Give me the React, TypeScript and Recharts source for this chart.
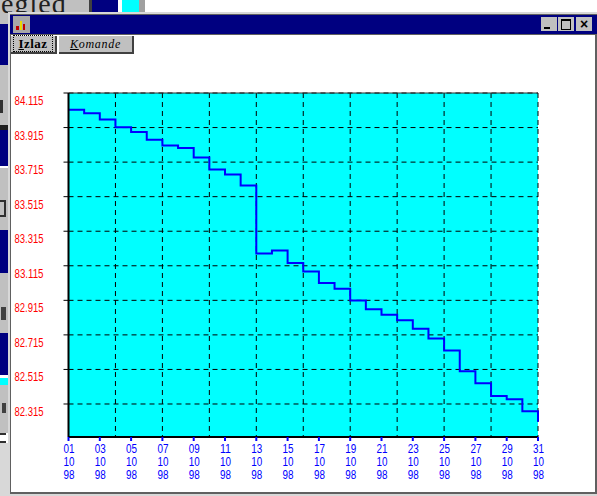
import { ComposedChart, Line, XAxis, YAxis, CartesianGrid } from 'recharts';

const days = [1, 2, 3, 4, 5, 6, 7, 8, 9, 10, 11, 12, 13, 14, 15, 16, 17, 18, 19, 20, 21, 22, 23, 24, 25, 26, 27, 28, 29, 30, 31];
const values = [
  84.018, 83.998, 83.961, 83.917, 83.89, 83.845, 83.811, 83.797, 83.741, 83.672, 83.643, 83.579,
  83.186, 83.204, 83.131, 83.082, 83.015, 82.982, 82.914, 82.864, 82.831, 82.8, 82.75, 82.694,
  82.624, 82.505, 82.435, 82.361, 82.342, 82.273, 82.212,
];
const yTicks = [84.115, 83.915, 83.715, 83.515, 83.315, 83.115, 82.915, 82.715, 82.515, 82.315];
const xTicks = [1, 3, 5, 7, 9, 11, 13, 15, 17, 19, 21, 23, 25, 27, 29, 31];
const gridDays = [4, 7, 10, 13, 16, 19, 22, 25, 28, 31];
const month = '10';
const year = '98';

const data = days.map((day, i) => ({ day, value: values[i] }));

const labelFont = '"Liberation Sans", sans-serif';

function YTick({ x, y, payload }: any) {
  return (
    <text x={x - 18} y={y + 12} textAnchor="end" fontFamily={labelFont} fontSize={13} fill="#ff0000" textLength={29} lengthAdjust="spacingAndGlyphs">
      {payload.value.toFixed(3)}
    </text>
  );
}

function XTick({ x, y, payload }: any) {
  const day = String(payload.value).padStart(2, '0');
  const lines = [day, month, year];
  return (
    <text textAnchor="middle" fontFamily={labelFont} fontSize={12} fill="#0000ff">
      {lines.map((line, i) => (
        <tspan key={i} x={x + 0.5} y={y + 10 + i * 13} textLength={11} lengthAdjust="spacingAndGlyphs">
          {line}
        </tspan>
      ))}
    </text>
  );
}

// window chrome around the chart
function Box({ l, t, w, h, c }: { l: number; t: number; w: number; h: number; c: string }) {
  return <div style={{ position: 'absolute', left: l, top: t, width: w, height: h, background: c }} />;
}

function Backdrop() {
  return (
    <>
      <Box l={0} t={0} w={597} h={496} c="#ffffff" />
      <Box l={0} t={0} w={89} h={24} c="#c0c0c0" />
      <Box l={89} t={0} w={3} h={13} c="#404040" />
      <Box l={92} t={0} w={26} h={13} c="#000080" />
      <Box l={122} t={0} w={17} h={13} c="#00ffff" />
      <Box l={139} t={0} w={6} h={13} c="#a0a0a0" />
      <div style={{ position: 'absolute', left: 1, top: -12, fontFamily: '"Liberation Serif", serif', fontSize: 28, color: '#202020', letterSpacing: 1 }}>
        egled
      </div>
      <Box l={0} t={24} w={10} h={41} c="#000080" />
      <Box l={0} t={65} w={10} h={60} c="#c0c0c0" />
      <Box l={0} t={100} w={3} h={13} c="#303030" />
      <Box l={0} t={125} w={10} h={5} c="#202020" />
      <Box l={0} t={130} w={10} h={36} c="#000080" />
      <Box l={0} t={168} w={10} h={62} c="#c0c0c0" />
      <Box l={0} t={200} w={6} h={2} c="#303030" />
      <Box l={4} t={202} w={2} h={13} c="#303030" />
      <Box l={0} t={215} w={6} h={2} c="#303030" />
      <Box l={0} t={230} w={10} h={43} c="#000080" />
      <Box l={0} t={273} w={10} h={60} c="#c0c0c0" />
      <Box l={1} t={307} w={5} h={13} c="#404040" />
      <Box l={0} t={333} w={10} h={42} c="#000080" />
      <Box l={0} t={378} w={10} h={7} c="#00ffff" />
      <Box l={0} t={385} w={10} h={48} c="#c0c0c0" />
      <Box l={2} t={403} w={4} h={10} c="#404040" />
      <Box l={0} t={433} w={6} h={2} c="#303030" />
      <Box l={0} t={441} w={6} h={2} c="#303030" />
      <Box l={0} t={443} w={10} h={53} c="#d8d8d8" />
      <Box l={8} t={12} w={589} h={484} c="#d8d8d8" />
      <Box l={10} t={14} w={587} h={480} c="#606060" />
      <Box l={11} t={35} w={584} h={457} c="#ffffff" />
      <Box l={10} t={15} w={587} h={19} c="#000080" />
      <Box l={13} t={16} w={17} h={17} c="#a8a8a8" />
      <Box l={16} t={26} w={3} h={4} c="#c00000" />
      <Box l={20} t={21} w={2} h={9} c="#e8d800" />
      <Box l={23} t={24} w={2} h={6} c="#c00000" />
      <Box l={541} t={17} w={16} h={14} c="#c0c0c0" />
      <Box l={544} t={27} w={6} h={2} c="#000000" />
      <Box l={558} t={17} w={16} h={14} c="#c0c0c0" />
      <div style={{ position: 'absolute', left: 561, top: 19, width: 8, height: 8, border: '1px solid #000', borderTopWidth: 2 }} />
      <Box l={576} t={17} w={16} h={14} c="#c0c0c0" />
      <div style={{ position: 'absolute', left: 576, top: 16, width: 16, textAlign: 'center', fontFamily: '"Liberation Sans", sans-serif', fontWeight: 700, fontSize: 14, lineHeight: '16px', color: '#000' }}>
        ×
      </div>
      <div style={{ position: 'absolute', left: 11, top: 36, width: 46, height: 18, boxSizing: 'border-box', background: '#c0c0c0', borderRight: '2px solid #404040', borderBottom: '2px solid #404040', textAlign: 'center', fontFamily: '"Liberation Serif", serif', fontWeight: 700, fontSize: 13, letterSpacing: 0.5, lineHeight: '16px', color: '#000' }}>
        <span style={{ outline: '1px dotted #000', padding: '0 4px' }}><u>I</u>zlaz</span>
      </div>
      <div style={{ position: 'absolute', left: 59, top: 36, width: 75, height: 18, boxSizing: 'border-box', background: '#c0c0c0', borderRight: '2px solid #404040', borderBottom: '2px solid #404040', textAlign: 'center', fontFamily: '"Liberation Serif", serif', fontStyle: 'italic', fontSize: 12, letterSpacing: 0.7, lineHeight: '16px', color: '#000' }}>
        <u>K</u>omande
      </div>
    </>
  );
}

export default function App() {
  return (
    <div style={{ position: 'fixed', left: 0, top: 0, width: 597, height: 496, overflow: 'hidden' }}>
      <Backdrop />
      <div style={{ position: 'absolute', left: 0, top: 0 }}>
        <ComposedChart width={597} height={496} data={data} margin={{ top: 0, right: 59, bottom: 0, left: 0 }}>
          <CartesianGrid
            fill="#00ffff"
            stroke="#000000"
            strokeDasharray="5 4"
            horizontalValues={yTicks}
            verticalValues={gridDays}
          />
          <XAxis
            dataKey="day"
            type="number"
            domain={[1, 31]}
            ticks={xTicks}
            interval={0}
            height={59}
            tick={<XTick />}
            tickSize={4}
            axisLine={{ stroke: '#000000', strokeWidth: 2 }}
            tickLine={{ stroke: '#0000ff', strokeWidth: 2 }}
          />
          <XAxis
            xAxisId="top"
            orientation="top"
            dataKey="day"
            type="number"
            domain={[1, 31]}
            ticks={gridDays}
            interval={0}
            height={93}
            tick={false}
            tickSize={4}
            axisLine={{ stroke: '#303030', strokeWidth: 1 }}
            tickLine={{ stroke: '#000000', strokeWidth: 1 }}
          />
          <YAxis
            type="number"
            domain={[82.124, 84.115]}
            ticks={yTicks}
            interval={0}
            width={68.5}
            tick={<YTick />}
            tickSize={5}
            axisLine={{ stroke: '#000000', strokeWidth: 2 }}
            tickLine={{ stroke: '#000000', strokeWidth: 1 }}
            allowDataOverflow
          />
          <Line
            type="stepAfter"
            dataKey="value"
            stroke="#0000ff"
            strokeWidth={2}
            dot={false}
            activeDot={false}
            isAnimationActive={false}
          />
        </ComposedChart>
      </div>
    </div>
  );
}
